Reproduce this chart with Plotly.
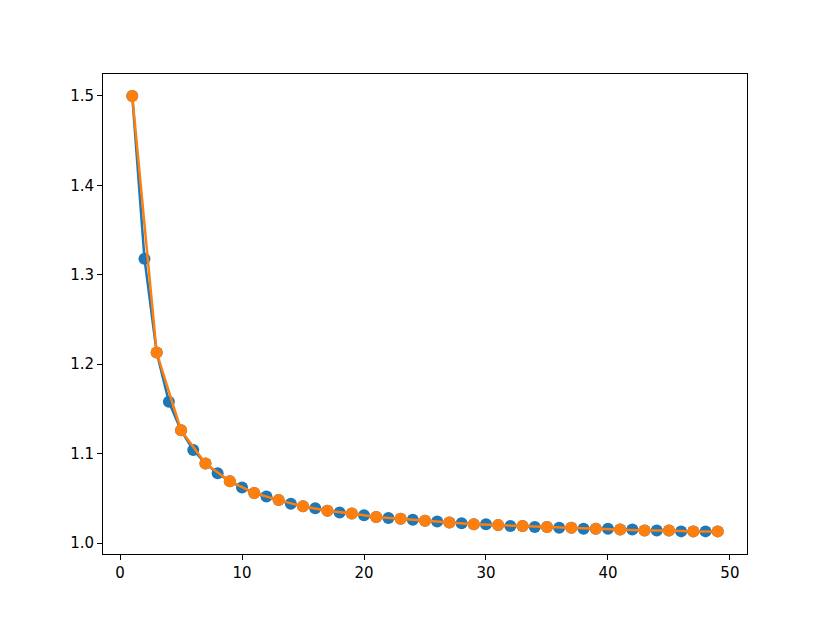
import plotly.graph_objects as go

BLUE = "#1f77b4"
ORANGE = "#ff7f0e"

# all n
n_all = list(range(1, 50))
vals_all = [1.500, 1.318, 1.213, 1.158, 1.126, 1.104, 1.089, 1.078, 1.069, 1.062,
            1.056, 1.052, 1.048, 1.044, 1.041, 1.039, 1.036, 1.034, 1.033, 1.031,
            1.029, 1.028, 1.027, 1.026, 1.025, 1.024, 1.023, 1.022, 1.021, 1.021,
            1.020, 1.019, 1.019, 1.018, 1.018, 1.017, 1.017, 1.016, 1.016, 1.016,
            1.015, 1.015, 1.014, 1.014, 1.014, 1.013, 1.013, 1.013, 1.013]

# odd n only, orange series
n_odd = list(range(1, 50, 2))
vals_odd = [1.500, 1.213, 1.126, 1.089, 1.069, 1.056, 1.048, 1.041, 1.036, 1.033,
            1.029, 1.027, 1.025, 1.023, 1.021, 1.020, 1.019, 1.018, 1.017, 1.016,
            1.015, 1.014, 1.014, 1.013, 1.013]

x_ticks = [0, 10, 20, 30, 40, 50]
y_ticks = [1.0, 1.1, 1.2, 1.3, 1.4, 1.5]

fig = go.Figure()
fig.add_trace(go.Scatter(x=n_all, y=vals_all, mode="lines+markers",
                         line=dict(color=BLUE, width=2.5),
                         marker=dict(color=BLUE, size=12)))
fig.add_trace(go.Scatter(x=n_odd, y=vals_odd, mode="lines+markers",
                         line=dict(color=ORANGE, width=2.5),
                         marker=dict(color=ORANGE, size=12)))

axis_style = dict(showgrid=False, zeroline=False, showline=True, linecolor="black",
                  linewidth=1, mirror=True, ticks="outside", ticklen=5,
                  tickcolor="black", tickfont=dict(color="black", size=15))

# page body has an 8px margin, so the plot box is shifted by that amount
fig.update_layout(
    width=830, height=623,
    margin=dict(l=95, r=91, t=66, b=77),
    paper_bgcolor="white", plot_bgcolor="white",
    font=dict(family="DejaVu Sans", color="black"),
    showlegend=False,
    xaxis=dict(range=[-1.4, 51.4], tickvals=x_ticks, **axis_style),
    yaxis=dict(range=[0.9877, 1.5246], tickvals=y_ticks, tickformat=".1f", **axis_style),
)

fig.write_html("out.html")
